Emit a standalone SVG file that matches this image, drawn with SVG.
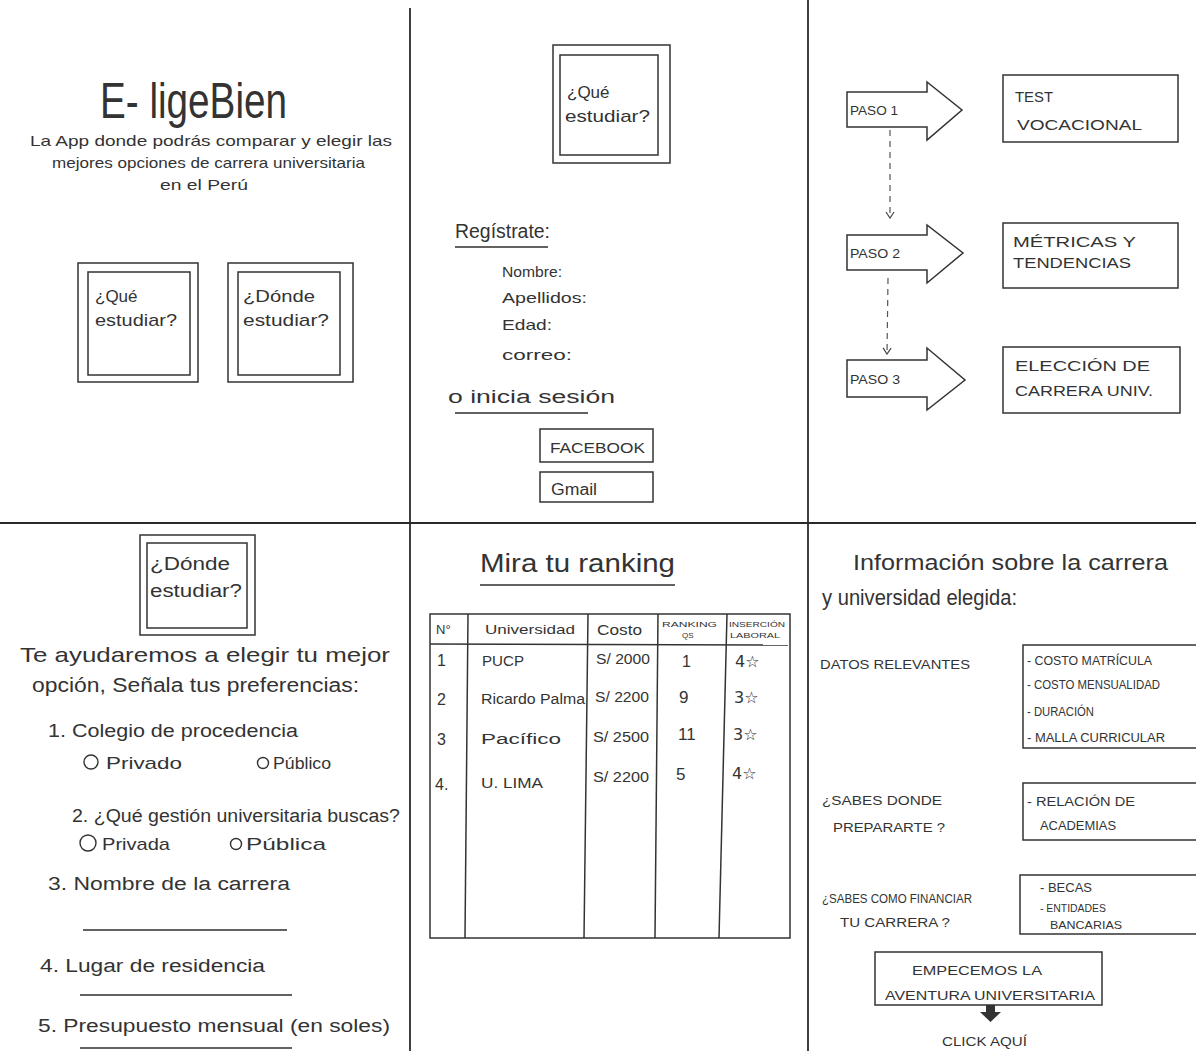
<svg xmlns="http://www.w3.org/2000/svg" width="1196" height="1051" viewBox="0 0 1196 1051">
  <style>
    .t { font-family: "Liberation Sans", "DejaVu Sans", sans-serif; fill: #333; }
    .ln { stroke: #2e2e2e; stroke-width: 1.6; fill: none; }
    .div { stroke: #2a2a2a; stroke-width: 1.8; fill: none; }
    .box { stroke: #333; stroke-width: 1.5; fill: none; }
    .opt { stroke: #333; stroke-width: 1.4; fill: none; }
    .dash { stroke: #555; stroke-width: 1.2; stroke-dasharray: 6 5; fill: none; }
    .star { font-family: "DejaVu Sans", sans-serif; fill: #333; }
  </style>
  <defs>
    <marker id="vhead" viewBox="0 0 10 10" refX="9" refY="5" markerWidth="10" markerHeight="10" orient="auto" markerUnits="userSpaceOnUse">
      <path d="M3,1 L9,5 L3,9" stroke="#444" stroke-width="1.2" fill="none"/>
    </marker>
  </defs>
  <rect width="1196" height="1051" fill="#fff"/>

  <!-- panel dividers -->
  <g id="frame">
    <line class="div" x1="410" y1="8" x2="410" y2="1051"/>
    <line class="div" x1="808" y1="0" x2="808" y2="1051"/>
    <line class="div" x1="0" y1="523" x2="1196" y2="523"/>
  </g>

  <!-- screen 1: home -->
  <g id="home-title">
    <text class="t" x="100" y="118" font-size="50" textLength="187" lengthAdjust="spacingAndGlyphs">E- ligeBien</text>
    <text class="t" x="30" y="146" font-size="15" textLength="362" lengthAdjust="spacingAndGlyphs">La App donde podrás comparar y elegir las</text>
    <text class="t" x="52" y="168" font-size="15" textLength="313" lengthAdjust="spacingAndGlyphs">mejores opciones de carrera universitaria</text>
    <text class="t" x="160" y="190" font-size="15" textLength="88" lengthAdjust="spacingAndGlyphs">en el Perú</text>
  </g>
  <g id="home-que-estudiar">
    <rect class="box" x="78" y="263" width="120" height="119"/>
    <rect class="box" x="88" y="272" width="102" height="103"/>
    <text class="t" x="95" y="302" font-size="17">¿Qué</text>
    <text class="t" x="95" y="326" font-size="17" textLength="82" lengthAdjust="spacingAndGlyphs">estudiar?</text>
  </g>
  <g id="home-donde-estudiar">
    <rect class="box" x="228" y="263" width="125" height="119"/>
    <rect class="box" x="238" y="272" width="102" height="103"/>
    <text class="t" x="243" y="302" font-size="17" textLength="72" lengthAdjust="spacingAndGlyphs">¿Dónde</text>
    <text class="t" x="243" y="326" font-size="17" textLength="86" lengthAdjust="spacingAndGlyphs">estudiar?</text>
  </g>

  <!-- screen 2: sign up -->
  <g id="signup-header">
    <rect class="box" x="553" y="45" width="117" height="118"/>
    <rect class="box" x="560" y="55" width="98" height="100"/>
    <text class="t" x="567" y="98" font-size="17">¿Qué</text>
    <text class="t" x="565" y="122" font-size="17" textLength="85" lengthAdjust="spacingAndGlyphs">estudiar?</text>
  </g>
  <g id="signup-form">
    <text class="t" x="455" y="238" font-size="20" textLength="95" lengthAdjust="spacingAndGlyphs">Regístrate:</text>
    <line class="ln" x1="455" y1="247" x2="548" y2="247"/>
    <text class="t" x="502" y="277" font-size="15" textLength="60" lengthAdjust="spacingAndGlyphs">Nombre:</text>
    <text class="t" x="502" y="303" font-size="15" textLength="85" lengthAdjust="spacingAndGlyphs">Apellidos:</text>
    <text class="t" x="502" y="330" font-size="15" textLength="50" lengthAdjust="spacingAndGlyphs">Edad:</text>
    <text class="t" x="502" y="360" font-size="15" textLength="70" lengthAdjust="spacingAndGlyphs">correo:</text>
    <text class="t" x="448" y="403" font-size="18" textLength="167" lengthAdjust="spacingAndGlyphs">o inicia sesión</text>
    <line class="ln" x1="455" y1="413" x2="588" y2="413"/>
  </g>
  <g id="btn-facebook">
    <rect class="box" x="540" y="429" width="113" height="33"/>
    <text class="t" x="550" y="453" font-size="15" textLength="95" lengthAdjust="spacingAndGlyphs">FACEBOOK</text>
  </g>
  <g id="btn-gmail">
    <rect class="box" x="540" y="472" width="113" height="30"/>
    <text class="t" x="551" y="495" font-size="16" textLength="46" lengthAdjust="spacingAndGlyphs">Gmail</text>
  </g>

  <!-- screen 3: steps -->
  <g id="paso-1">
    <polygon class="box" points="847,92 927,92 927,82 962,110 927,140 927,127 847,127"/>
    <text class="t" x="850" y="115" font-size="13" textLength="48" lengthAdjust="spacingAndGlyphs">PASO 1</text>
  </g>
  <g id="test-vocacional">
    <rect class="box" x="1003" y="75" width="175" height="67"/>
    <text class="t" x="1015" y="102" font-size="15" textLength="38" lengthAdjust="spacingAndGlyphs">TEST</text>
    <text class="t" x="1017" y="130" font-size="15" textLength="125" lengthAdjust="spacingAndGlyphs">VOCACIONAL</text>
  </g>
  <g id="paso-2">
    <polygon class="box" points="847,235 927,235 927,225 963,253 927,283 927,270 847,270"/>
    <text class="t" x="850" y="258" font-size="13" textLength="50" lengthAdjust="spacingAndGlyphs">PASO 2</text>
  </g>
  <g id="metricas">
    <rect class="box" x="1003" y="223" width="175" height="65"/>
    <text class="t" x="1013" y="247" font-size="14" textLength="123" lengthAdjust="spacingAndGlyphs">MÉTRICAS   Y</text>
    <text class="t" x="1013" y="268" font-size="14" textLength="118" lengthAdjust="spacingAndGlyphs">TENDENCIAS</text>
  </g>
  <g id="paso-3">
    <polygon class="box" points="847,360 927,360 927,348 965,380 927,410 927,397 847,397"/>
    <text class="t" x="850" y="384" font-size="13" textLength="50" lengthAdjust="spacingAndGlyphs">PASO 3</text>
  </g>
  <g id="eleccion">
    <rect class="box" x="1003" y="347" width="177" height="66"/>
    <text class="t" x="1015" y="371" font-size="14" textLength="135" lengthAdjust="spacingAndGlyphs">ELECCIÓN   DE</text>
    <text class="t" x="1015" y="396" font-size="14" textLength="138" lengthAdjust="spacingAndGlyphs">CARRERA  UNIV.</text>
  </g>

  <!-- step links -->
  <g id="connectors">
    <line class="dash" x1="890" y1="130" x2="890" y2="218" marker-end="url(#vhead)"/>
    <line class="dash" x1="888" y1="278" x2="887" y2="354" marker-end="url(#vhead)"/>
  </g>

  <!-- screen 4: preferences -->
  <g id="pref-header">
    <rect class="box" x="140" y="535" width="115" height="100"/>
    <rect class="box" x="147" y="543" width="100" height="85"/>
    <text class="t" x="150" y="570" font-size="18" textLength="80" lengthAdjust="spacingAndGlyphs">¿Dónde</text>
    <text class="t" x="150" y="597" font-size="18" textLength="92" lengthAdjust="spacingAndGlyphs">estudiar?</text>
  </g>
  <g id="pref-form">
    <text class="t" x="20" y="662" font-size="21" textLength="370" lengthAdjust="spacingAndGlyphs">Te ayudaremos a elegir tu mejor</text>
    <text class="t" x="32" y="692" font-size="20" textLength="327" lengthAdjust="spacingAndGlyphs">opción, Señala tus preferencias:</text>
    <text class="t" x="48" y="737" font-size="18" textLength="250" lengthAdjust="spacingAndGlyphs">1. Colegio de procedencia</text>
    <circle class="opt" cx="91" cy="762" r="7"/>
    <text class="t" x="106" y="769" font-size="17" textLength="76" lengthAdjust="spacingAndGlyphs">Privado</text>
    <circle class="opt" cx="263" cy="763" r="5.5"/>
    <text class="t" x="273" y="769" font-size="17" textLength="58" lengthAdjust="spacingAndGlyphs">Público</text>
    <text class="t" x="72" y="822" font-size="18" textLength="328" lengthAdjust="spacingAndGlyphs">2. ¿Qué gestión universitaria buscas?</text>
    <circle class="opt" cx="88" cy="843" r="8"/>
    <text class="t" x="102" y="850" font-size="17" textLength="68" lengthAdjust="spacingAndGlyphs">Privada</text>
    <circle class="opt" cx="236" cy="844" r="5.5"/>
    <text class="t" x="246" y="850" font-size="17" textLength="80" lengthAdjust="spacingAndGlyphs">Pública</text>
    <text class="t" x="48" y="890" font-size="18" textLength="242" lengthAdjust="spacingAndGlyphs">3. Nombre de la carrera</text>
    <line class="ln" x1="83" y1="930" x2="287" y2="930"/>
    <text class="t" x="40" y="972" font-size="18" textLength="225" lengthAdjust="spacingAndGlyphs">4. Lugar de residencia</text>
    <line class="ln" x1="80" y1="995" x2="292" y2="995"/>
    <text class="t" x="38" y="1032" font-size="18" textLength="352" lengthAdjust="spacingAndGlyphs">5. Presupuesto mensual (en soles)</text>
    <line class="ln" x1="80" y1="1048" x2="292" y2="1048"/>
  </g>

  <!-- screen 5: ranking -->
  <g id="ranking-title">
    <text class="t" x="480" y="572" font-size="26" textLength="195" lengthAdjust="spacingAndGlyphs">Mira tu ranking</text>
    <line class="ln" x1="480" y1="585" x2="675" y2="585"/>
  </g>
  <g id="ranking-table">
    <rect class="box" x="430" y="614" width="360" height="324"/>
    <line class="box" x1="430" y1="644" x2="788" y2="645"/>
    <line class="box" x1="468" y1="614" x2="465" y2="938"/>
    <line class="box" x1="588" y1="614" x2="584" y2="938"/>
    <line class="box" x1="658" y1="614" x2="655" y2="938"/>
    <line class="box" x1="727" y1="614" x2="719" y2="938"/>
    <text class="t" x="436" y="634" font-size="13">N°</text>
    <text class="t" x="485" y="634" font-size="13" textLength="90" lengthAdjust="spacingAndGlyphs">Universidad</text>
    <text class="t" x="597" y="635" font-size="14" textLength="45" lengthAdjust="spacingAndGlyphs">Costo</text>
    <text class="t" x="662" y="627" font-size="8" textLength="55" lengthAdjust="spacingAndGlyphs">RANKING</text>
    <text class="t" x="682" y="638" font-size="8">QS</text>
    <text class="t" x="729" y="627" font-size="8" textLength="56" lengthAdjust="spacingAndGlyphs">INSERCIÓN</text>
    <text class="t" x="730" y="638" font-size="8" textLength="50" lengthAdjust="spacingAndGlyphs">LABORAL</text>

    <text class="t" x="437" y="666" font-size="16">1</text>
    <text class="t" x="482" y="666" font-size="14" textLength="42" lengthAdjust="spacingAndGlyphs">PUCP</text>
    <text class="t" x="596" y="664" font-size="14" textLength="54" lengthAdjust="spacingAndGlyphs">S/ 2000</text>
    <text class="t" x="682" y="667" font-size="16">1</text>
    <text class="star" x="735" y="667" font-size="16">4☆</text>

    <text class="t" x="437" y="705" font-size="16">2</text>
    <text class="t" x="481" y="704" font-size="14" textLength="104" lengthAdjust="spacingAndGlyphs">Ricardo Palma</text>
    <text class="t" x="595" y="702" font-size="14" textLength="54" lengthAdjust="spacingAndGlyphs">S/ 2200</text>
    <text class="t" x="679" y="703" font-size="17">9</text>
    <text class="star" x="734" y="703" font-size="16">3☆</text>

    <text class="t" x="437" y="745" font-size="16">3</text>
    <text class="t" x="481" y="744" font-size="14" textLength="80" lengthAdjust="spacingAndGlyphs">Pacífico</text>
    <text class="t" x="593" y="742" font-size="14" textLength="56" lengthAdjust="spacingAndGlyphs">S/ 2500</text>
    <text class="t" x="678" y="740" font-size="17">11</text>
    <text class="star" x="733" y="740" font-size="16">3☆</text>

    <text class="t" x="435" y="790" font-size="16">4.</text>
    <text class="t" x="481" y="788" font-size="14" textLength="62" lengthAdjust="spacingAndGlyphs">U. LIMA</text>
    <text class="t" x="593" y="782" font-size="14" textLength="56" lengthAdjust="spacingAndGlyphs">S/ 2200</text>
    <text class="t" x="676" y="780" font-size="17">5</text>
    <text class="star" x="732" y="779" font-size="16">4☆</text>
  </g>

  <!-- screen 6: career info -->
  <g id="info-title">
    <text class="t" x="853" y="570" font-size="22" textLength="315" lengthAdjust="spacingAndGlyphs">Información sobre la carrera</text>
    <text class="t" x="822" y="605" font-size="22" textLength="195" lengthAdjust="spacingAndGlyphs">y universidad elegida:</text>
  </g>
  <g id="datos-relevantes">
    <text class="t" x="820" y="669" font-size="13" textLength="150" lengthAdjust="spacingAndGlyphs">DATOS RELEVANTES</text>
    <rect class="box" x="1023" y="645" width="176" height="103"/>
    <text class="t" x="1027" y="665" font-size="12" textLength="125" lengthAdjust="spacingAndGlyphs">- COSTO MATRÍCULA</text>
    <text class="t" x="1027" y="689" font-size="12" textLength="133" lengthAdjust="spacingAndGlyphs">- COSTO MENSUALIDAD</text>
    <text class="t" x="1027" y="716" font-size="12" textLength="67" lengthAdjust="spacingAndGlyphs">- DURACIÓN</text>
    <text class="t" x="1027" y="742" font-size="12" textLength="138" lengthAdjust="spacingAndGlyphs">- MALLA CURRICULAR</text>
  </g>
  <g id="preparacion">
    <text class="t" x="822" y="805" font-size="13" textLength="120" lengthAdjust="spacingAndGlyphs">¿SABES DONDE</text>
    <text class="t" x="833" y="832" font-size="13" textLength="112" lengthAdjust="spacingAndGlyphs">PREPARARTE ?</text>
    <rect class="box" x="1023" y="783" width="176" height="57"/>
    <text class="t" x="1027" y="806" font-size="12" textLength="108" lengthAdjust="spacingAndGlyphs">- RELACIÓN DE</text>
    <text class="t" x="1040" y="830" font-size="12" textLength="76" lengthAdjust="spacingAndGlyphs">ACADEMIAS</text>
  </g>
  <g id="financiamiento">
    <text class="t" x="822" y="903" font-size="12" textLength="150" lengthAdjust="spacingAndGlyphs">¿SABES COMO FINANCIAR</text>
    <text class="t" x="840" y="927" font-size="12" textLength="110" lengthAdjust="spacingAndGlyphs">TU CARRERA ?</text>
    <rect class="box" x="1020" y="875" width="179" height="59"/>
    <text class="t" x="1040" y="892" font-size="12" textLength="52" lengthAdjust="spacingAndGlyphs">- BECAS</text>
    <text class="t" x="1040" y="912" font-size="11" textLength="66" lengthAdjust="spacingAndGlyphs">- ENTIDADES</text>
    <text class="t" x="1050" y="929" font-size="11" textLength="72" lengthAdjust="spacingAndGlyphs">BANCARIAS</text>
  </g>
  <g id="cta">
    <rect class="box" x="875" y="952" width="227" height="53"/>
    <text class="t" x="912" y="975" font-size="13" textLength="130" lengthAdjust="spacingAndGlyphs">EMPECEMOS   LA</text>
    <text class="t" x="885" y="1000" font-size="13" textLength="210" lengthAdjust="spacingAndGlyphs">AVENTURA UNIVERSITARIA</text>
    <polygon points="986,1005 995,1005 995,1012 1001,1012 990.5,1022 980,1012 986,1012" fill="#333"/>
    <text class="t" x="942" y="1046" font-size="12" textLength="85" lengthAdjust="spacingAndGlyphs">CLICK AQUÍ</text>
  </g>
</svg>
